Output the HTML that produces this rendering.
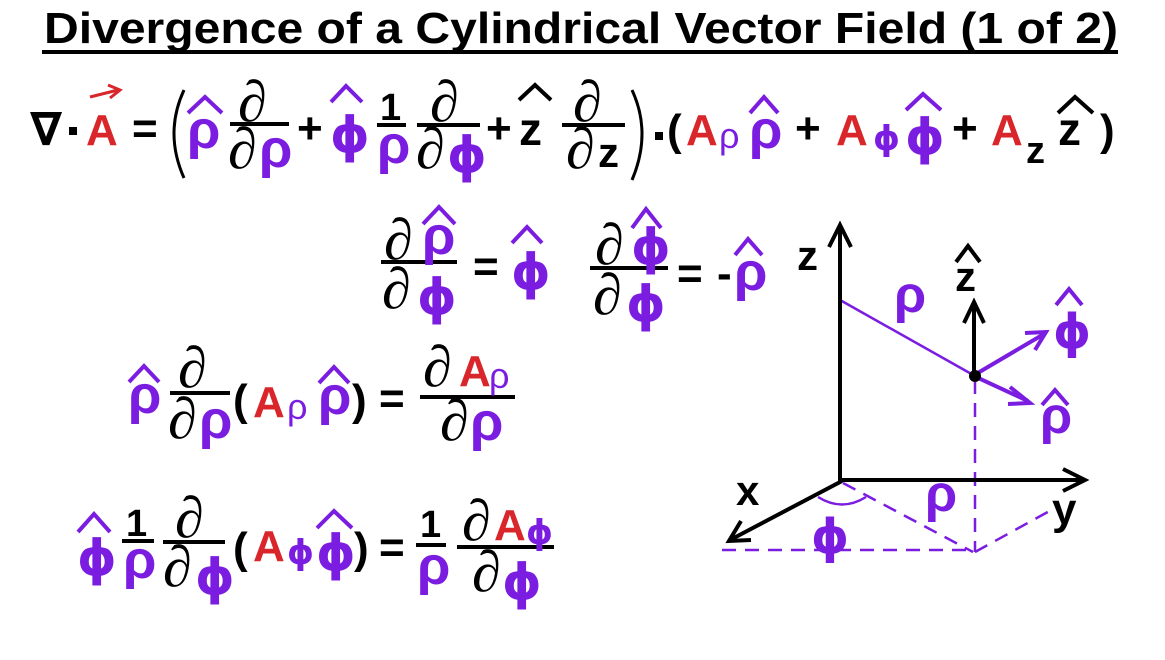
<!DOCTYPE html>
<html><head><meta charset="utf-8"><style>
html,body{margin:0;padding:0;background:#fff;width:1165px;height:660px;overflow:hidden}
svg{display:block}
.b{font-family:"Liberation Sans","DejaVu Sans",sans-serif;font-weight:bold}
.p{fill:#7a1de0}
.r{fill:#d9262b}
.d{font-family:"Liberation Serif","DejaVu Serif",serif;font-style:italic;font-size:58px;fill:#000}
.ph{font-family:"DejaVu Sans","Liberation Sans",sans-serif;font-weight:bold}
</style></head><body>
<svg width="1165" height="660" viewBox="0 0 1165 660" xmlns="http://www.w3.org/2000/svg">
<text x="44" y="43" class="b" font-size="44" textLength="1074" lengthAdjust="spacingAndGlyphs">Divergence of a Cylindrical Vector Field (1 of 2)</text>
<rect x="42" y="50" width="1076" height="4" fill="#000"/>

<g fill="none" stroke-width="4" stroke-linejoin="miter">
<g stroke="#7a1de0">
<polyline points="188,113 205,97 222,113"/>
<polyline points="331,102 346,86 362,102"/>
<polyline points="750,113 764,97 778,113"/>
<polyline points="906,110 923,94 941,110"/>
<polyline points="423,224 439,207 455,224"/>
<polyline points="512,243 527,227 542,243"/>
<polyline points="632,228 646,209 661,228"/>
<polyline points="735,255 748,239 762,255"/>
<polyline points="129,382 144,366 159,382"/>
<polyline points="319,383 334,367 349,383"/>
<polyline points="78,532 94,514 110,532"/>
<polyline points="317,528 334,511 352,528"/>
<polyline points="1056,305 1069,289 1082,305"/>
<polyline points="1042,405 1055,390 1068,405"/>
</g>
<g stroke="#000">
<polyline points="519,100 535,85 551,100"/>
<polyline points="1058,113 1075,97 1093,113"/>
<polyline points="956,262 968,246 980,262"/>
</g>
</g>

<!-- Row 1 -->
<g class="b" font-size="44">
<text x="30" y="145" font-size="46">∇</text>
<rect x="69" y="127" width="8" height="8" fill="#000"/>
<text x="86" y="145" class="r">A</text>
<text x="132" y="143">=</text>
<text x="187" y="148" class="p" font-size="54">ρ</text>
<text x="259" y="167" class="p" font-size="54">ρ</text>
<text x="297" y="143">+</text>
<text x="330" y="152" class="p ph" font-size="50">ϕ</text>
<text x="380" y="120" font-size="38">1</text>
<text x="377" y="163" class="p" font-size="54">ρ</text>
<text x="447" y="172" class="p ph" font-size="50">ϕ</text>
<text x="486" y="143">+</text>
<text x="519" y="145" font-size="46">z</text>
<text x="598" y="167" font-size="42">z</text>
<rect x="655" y="132" width="8" height="8" fill="#000"/>
<text x="667" y="145">(</text>
<text x="686" y="145" class="r">A</text>
<text x="719" y="148" class="p" font-size="36" font-weight="normal">ρ</text>
<text x="749" y="148" class="p" font-size="54">ρ</text>
<text x="795" y="143">+</text>
<text x="836" y="145" class="r">A</text>
<text x="873" y="150" class="p ph" font-size="34" font-weight="normal">ϕ</text>
<text x="905" y="154" class="p ph" font-size="50">ϕ</text>
<text x="952" y="143">+</text>
<text x="991" y="145" class="r">A</text>
<text x="1026" y="163" font-size="38">z</text>
<text x="1058" y="145" font-size="46">z</text>
<text x="1100" y="145">)</text>
</g>
<line x1="90" y1="97" x2="118" y2="90" stroke="#d9262b" stroke-width="3"/>
<polyline points="108,85 120,90 110,98" fill="none" stroke="#d9262b" stroke-width="3"/>
<path d="M184,90 Q164,133 184,178" fill="none" stroke="#000" stroke-width="3"/>
<path d="M632,90 Q652,133 632,180" fill="none" stroke="#000" stroke-width="3"/>
<text x="238" y="121" class="d">∂</text>
<text x="228" y="168" class="d">∂</text>
<text x="430" y="121" class="d">∂</text>
<text x="416" y="168" class="d">∂</text>
<text x="573" y="121" class="d">∂</text>
<text x="566" y="168" class="d">∂</text>
<g stroke="#000" stroke-width="4">
<line x1="230" y1="124" x2="289" y2="124"/>
<line x1="377" y1="125" x2="406" y2="125"/>
<line x1="417" y1="125" x2="480" y2="125"/>
<line x1="562" y1="125" x2="625" y2="125"/>
<line x1="381" y1="262" x2="457" y2="262"/>
<line x1="590" y1="268" x2="668" y2="268"/>
<line x1="170" y1="393" x2="230" y2="393"/>
<line x1="420" y1="397" x2="515" y2="397"/>
<line x1="122" y1="541" x2="154" y2="541"/>
<line x1="163" y1="542" x2="225" y2="542"/>
<line x1="416" y1="545" x2="446" y2="545"/>
<line x1="457" y1="547" x2="554" y2="547"/>
</g>

<!-- Row 2 -->
<text x="384" y="259" class="d">∂</text>
<text x="382" y="308" class="d">∂</text>
<text x="595" y="264" class="d">∂</text>
<text x="593" y="314" class="d">∂</text>
<g class="b" font-size="44">
<text x="422" y="254" class="p" font-size="54">ρ</text>
<text x="417" y="314" class="p ph" font-size="50">ϕ</text>
<text x="473" y="281">=</text>
<text x="511" y="289" class="p ph" font-size="50">ϕ</text>
<text x="631" y="264" class="p ph" font-size="50">ϕ</text>
<text x="626" y="321" class="p ph" font-size="50">ϕ</text>
<text x="677" y="288">=</text>
<text x="717" y="288">-</text>
<text x="734" y="290" class="p" font-size="54">ρ</text>
</g>

<!-- Row 3 -->
<text x="178" y="387" class="d">∂</text>
<text x="168" y="438" class="d">∂</text>
<text x="423" y="386" class="d">∂</text>
<text x="440" y="440" class="d">∂</text>
<g class="b" font-size="44">
<text x="128" y="413" class="p" font-size="54">ρ</text>
<text x="199" y="438" class="p" font-size="54">ρ</text>
<text x="233" y="415">(</text>
<text x="253" y="417" class="r">A</text>
<text x="287" y="419" class="p" font-size="36" font-weight="normal">ρ</text>
<text x="318" y="414" class="p" font-size="54">ρ</text>
<text x="352" y="415">)</text>
<text x="379" y="413">=</text>
<text x="459" y="386" class="r">A</text>
<text x="489" y="388" class="p" font-size="36" font-weight="normal">ρ</text>
<text x="470" y="440" class="p" font-size="54">ρ</text>
</g>

<!-- Row 4 -->
<text x="175" y="537" class="d">∂</text>
<text x="163" y="586" class="d">∂</text>
<text x="462" y="540" class="d">∂</text>
<text x="472" y="591" class="d">∂</text>
<g class="b" font-size="44">
<text x="77" y="575" class="p ph" font-size="50">ϕ</text>
<text x="126" y="536" font-size="38">1</text>
<text x="123" y="578" class="p" font-size="54">ρ</text>
<text x="195" y="594" class="p ph" font-size="50">ϕ</text>
<text x="233" y="563">(</text>
<text x="253" y="561" class="r">A</text>
<text x="287" y="564" class="p ph" font-size="34" font-weight="normal">ϕ</text>
<text x="316" y="570" class="p ph" font-size="50">ϕ</text>
<text x="354" y="563">)</text>
<text x="379" y="562">=</text>
<text x="420" y="537" font-size="38">1</text>
<text x="417" y="584" class="p" font-size="54">ρ</text>
<text x="494" y="540" class="r">A</text>
<text x="526" y="544" class="p ph" font-size="34" font-weight="normal">ϕ</text>
<text x="502" y="599" class="p ph" font-size="50">ϕ</text>
</g>

<!-- Diagram -->
<g fill="none" stroke-linecap="butt">
<g stroke="#7a1de0" stroke-width="2.5" stroke-dasharray="14,9">
<line x1="975" y1="380" x2="975" y2="552"/>
<line x1="722" y1="550" x2="973" y2="550"/>
<line x1="843" y1="483" x2="973" y2="552"/>
<line x1="975" y1="552" x2="1055" y2="508"/>
</g>
<line x1="840" y1="300" x2="975" y2="376" stroke="#7a1de0" stroke-width="2.5"/>
<path d="M818,497 Q842,512 866,497" stroke="#7a1de0" stroke-width="2.5"/>
<g stroke="#000" stroke-width="4">
<line x1="840" y1="480" x2="840" y2="226"/>
<polyline points="829,247 840,225 851,247"/>
<line x1="838" y1="480" x2="1084" y2="480"/>
<polyline points="1063,469 1085,480 1063,491"/>
<line x1="842" y1="481" x2="730" y2="540"/>
<polyline points="741,521 729,541 751,540"/>
<line x1="974" y1="376" x2="974" y2="304"/>
<polyline points="964,323 974,302 984,323"/>
</g>
<g stroke="#7a1de0" stroke-width="4">
<line x1="976" y1="374" x2="1044" y2="334"/>
<polyline points="1025,333 1046,332 1035,350"/>
<line x1="976" y1="377" x2="1028" y2="401"/>
<polyline points="1010,387 1030,403 1008,404"/>
</g>
</g>
<circle cx="975" cy="376" r="6" fill="#000"/>
<g class="b" font-size="42">
<text x="797" y="270">z</text>
<text x="955" y="291" font-size="42">z</text>
<text x="736" y="505">x</text>
<text x="1052" y="524" font-size="44">y</text>
<text x="894" y="312" class="p" font-size="52">ρ</text>
<text x="925" y="511" class="p" font-size="52">ρ</text>
<text x="811" y="553" class="p ph" font-size="48">ϕ</text>
<text x="1053" y="348" class="p ph" font-size="48">ϕ</text>
<text x="1040" y="433" class="p" font-size="52">ρ</text>
</g>
</svg>
</body></html>
